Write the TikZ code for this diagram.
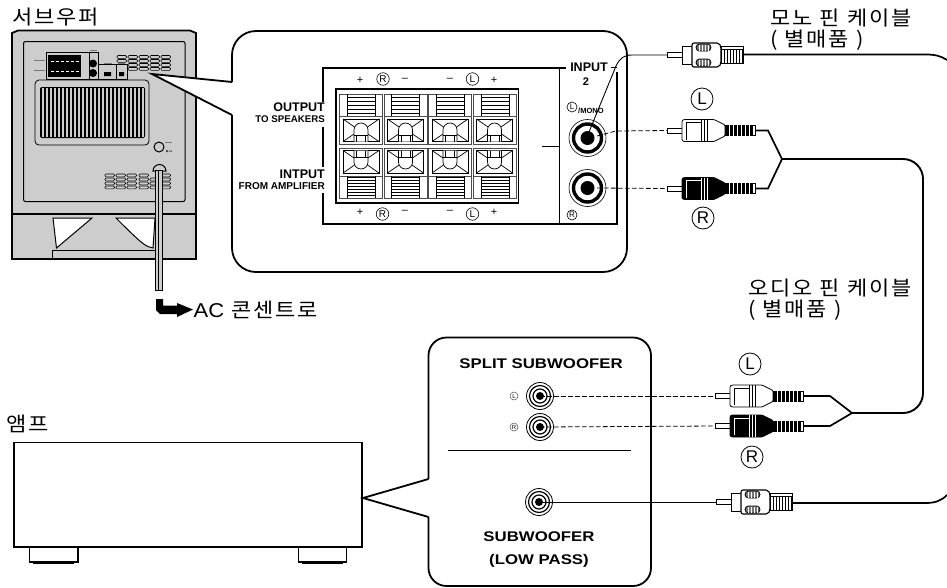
\documentclass[tikz,border=0pt]{standalone}
\usepackage{fontspec}
\setmainfont{Liberation Sans}
\newfontfamily\krfont[LetterSpace=8,WordSpace=1.1]{Noto Sans CJK KR}
\definecolor{boxgray}{HTML}{CDCDCD}
\definecolor{midgray}{HTML}{777777}
\newcommand{\krw}[1]{\scalebox{1.1}[1]{#1}}
\newcommand{\bw}[1]{\scalebox{1.2}[1]{#1}}
\tikzset{
  ln/.style={draw=black,line width=0.8pt},
  thickln/.style={draw=black,line width=1.8pt},
  cable/.style={draw=black,line width=1.7pt,rounded corners=0pt},
  dashcable/.style={draw=black,line width=0.8pt,dash pattern=on 4.5pt off 2.5pt},
  krlabel/.style={font=\krfont\fontsize{20}{20}\selectfont,inner sep=0pt,anchor=base west},
  boldlab/.style={font=\bfseries\fontsize{#1}{#1}\selectfont,inner sep=0pt},
  boldlab/.default=12,
  circA/.style={circle,draw=black,line width=0.8pt,fill=white,inner sep=0pt,minimum size=22pt,font=\fontsize{17}{17}\selectfont},
  circB/.style={circle,draw=black,line width=0.6pt,fill=white,inner sep=0pt,minimum size=12.5pt,font=\fontsize{10}{10}\selectfont},
  circC/.style={circle,draw=black!70,line width=0.5pt,fill=white,inner sep=0pt,minimum size=8pt,font=\fontsize{6}{6}\selectfont},
  signlab/.style={inner sep=0pt,font=\fontsize{11}{11}\selectfont},
  vent/.style={draw=black,line width=0.6pt,fill=boxgray,rounded corners=1pt},
}
\newcommand{\stereoplug}[4]{%
  \begin{scope}[shift={(#1,#2)}]
    \draw[ln,fill=white] (0,-2.5) -- (15,-2.5) -- (15,2.5) -- (0,2.5) -- cycle;
    \draw[ln,fill=#3,rounded corners=1pt] (15,-10) -- (17,-11) -- (47,-11) -- (58,-5.5) -- (58,5.5) -- (47,11) -- (17,11) -- (15,10) -- cycle;
    \draw[#4,line width=0.7pt] (19,-8) -- (34,-8) (19,-8) -- (19,9);
    \foreach \q in {34,37,40}{\draw[#4,line width=1pt] (\q,-11) -- (\q,11);}
    \fill[black] (58,-5.5) rectangle (85,5.5);
    \foreach \q in {62,66,70,74,78,82}{\draw[white,line width=0.4pt] (\q,-5.5) -- (\q,5.5);}
    \draw[ln,fill=white] (85,-5) rectangle (88,5);
  \end{scope}}
\newcommand{\monoplug}[2]{%
  \begin{scope}[shift={(#1,#2)}]
    \draw[ln,fill=white] (0,-2.2) rectangle (15,2.2);
    \draw[ln,fill=white] (15,-9) rectangle (27,9);
    \draw[thickln,line width=1.1pt,fill=white,rounded corners=2pt] (25,-12) -- (52,-12) -- (54,-8.5) -- (54,8.5) -- (52,12) -- (25,12) -- cycle;
    \draw[ln,fill=midgray,rounded corners=3.5pt] (29,-11) rectangle (44,-4);
    \draw[ln,fill=midgray,rounded corners=3.5pt] (29,4) rectangle (44,11);
    \foreach \q in {32,35,38,41}{\draw[white,line width=0.5pt] (\q,-10.5) -- (\q,-4.5) (\q,4.5) -- (\q,10.5);}
    \draw[ln,fill=white] (54,-8.5) rectangle (76,8.5);
    \foreach \q in {57,60,63,66,69,72,75}{\draw[black,line width=0.5pt] (\q,-6) -- (\q,8.5);}
    \draw[black,line width=0.5pt] (54,-5.5) -- (76,-5.5);
  \end{scope}}
\newcommand{\bigjack}[2]{%
  \draw[black,line width=0.6pt,fill=white] (#1,#2) circle (18.5);
  \draw[black,line width=3.4pt] (#1,#2) circle (14);
  \fill[black] (#1,#2) circle (7);}
\newcommand{\smalljack}[2]{%
  \draw[black,line width=0.8pt,fill=white] (#1,#2) circle (13.5);
  \draw[black,line width=1.2pt] (#1,#2) circle (10.5);
  \draw[black,line width=1.2pt] (#1,#2) circle (7);
  \fill[black] (#1,#2) circle (4);}
\newcommand{\spkunit}[5]{%
  \begin{scope}[shift={(#1,#2)},yscale=#3]
    \draw[draw=black!70,line width=0.8pt,fill=white] (0,0) rectangle (43,50);
    \draw[black!70,line width=0.8pt] (0,22) -- (43,22);
    \draw[black,line width=0.7pt] (#4,0) -- (#4,22) (#4+28,0) -- (#4+28,22);
    \foreach \q in {#5}{\draw[black,line width=0.7pt] (#4,\q) -- (#4+28,\q);}
    \draw[black,line width=0.7pt] (3.5,25) rectangle (39.5,47.5);
    \draw[black,line width=0.7pt] (3.5,25) -- (15,33) (39.5,25) -- (28,33) (3.5,47.5) -- (16,39) (39.5,47.5) -- (27,39);
    \draw[black,line width=0.7pt,fill=white] (14.5,47.5) -- (14.5,36) arc[start angle=180,end angle=360,radius=7] -- (28.5,47.5);
    \draw[black,line width=0.7pt] (17,47.5) -- (17,41) (26,47.5) -- (26,41) (14.5,41) -- (28.5,41);
  \end{scope}}
\begin{document}
\begin{tikzpicture}[x=1pt,y=-1pt]
\useasboundingbox (0,0) rectangle (947,587);
%--- Subwoofer
\node[krlabel] (lblsub) at (12,24) {\krw{서브우퍼}};
\draw[thickln,fill=boxgray] (12,33) -- (18,30.5) -- (190,30.5) -- (196,33) -- (196,214) -- (12,214) -- cycle;
\draw[thickln,fill=boxgray] (12,214) rectangle (196,259);
\draw[ln,line width=1pt,fill=boxgray,rounded corners=2pt] (23.5,41.5) rectangle (185,201.5);
\draw[ln,line width=1pt,fill=white] (53,218) -- (92,218) -- (56.5,248) -- cycle;
\draw[ln,line width=1pt,fill=white] (116,218) -- (155,218) -- (153,248) .. controls (146,247) and (142,244) .. cycle;
\draw[ln,line width=1pt,fill=boxgray] (52.5,250) rectangle (156,258);
\draw[ln,fill=boxgray,rounded corners=4pt] (35,80) rectangle (149,145);
\fill[black,rounded corners=2pt] (40,87) rectangle (145,138);
\foreach \q in {43,47,...,143}{\draw[boxgray,line width=1.4pt] (\q,88) -- (\q,137);}
\foreach \q in {128,139,150,161}{\foreach \r in {55.5,59.5,63.5,67.5}{\draw[vent] (\q,\r) rectangle ++(9.5,2.8);}}
\foreach \r in {55.5,59.5}{\draw[vent] (117,\r) rectangle ++(9.5,2.8);}
\foreach \q in {105,116,127,139,161}{\foreach \r in {174,178,182,186}{\draw[vent] (\q,\r) rectangle ++(9.5,2.8);}}
\foreach \r in {178,182,186}{\draw[vent] (150,\r) rectangle ++(9.5,2.8);}
% miniature rear panel
\draw[ln] (46,52) rectangle (98,79);
\fill[black] (48,55) rectangle (81,77);
\foreach \q in {51,56,...,79}{\foreach \r in {61,71}{\fill[white] (\q,\r) rectangle ++(2.5,1);}}
\draw[ln] (89,52) -- (89,79);
\fill[black] (93,63.5) circle (4) (93,73) circle (4);
\draw[ln] (98,64) -- (127,64) -- (127,79) -- (98,79) (116,64) -- (116,79);
\fill[black] (104,72) rectangle (111,76) (119,72) rectangle (124,76);
\draw[midgray,line width=0.8pt] (34,60) -- (45,60) (34,70) -- (45,70) (104,63) -- (112,63) (118,63) -- (125,63) (90,50) -- (97,50);
\draw[ln,line width=1pt] (159,147) circle (5);
\draw[midgray,line width=0.8pt] (165,142) -- (172,142);
\fill[black!70] (166,150) rectangle (168,152) (169,150.5) rectangle (172,151.5);
\draw[ln,line width=1pt,fill=boxgray] (153,171) arc[start angle=180,end angle=360,radius=6.5] -- cycle;
\draw[black,fill=boxgray,line width=0.8pt] (155.5,170) rectangle (162,290);
\draw[black,line width=0.5pt] (158.7,170) -- (158.7,290);
% AC arrow
\node[font=\krfont\fontsize{20}{20}\selectfont,inner sep=0pt,anchor=base west] (aclabel) at (193.5,317) {\krw{{\rmfamily AC} 콘센트로}};
\coordinate (acarrow) at (193,309.5);
\fill[black] (156,299) -- (163,299) -- (163,305.5) -- (177,305.5) -- (177,303) -- (acarrow) -- (177,317) -- (177,314) -- (160,314) -- (156,310) -- cycle;
%--- Upper panel with callout
\path[fill=white] (152,74) -- (232,82) -- (232,115) -- cycle;
\coordinate (tipA) at (152,74);
\draw[thickln,rounded corners=24pt] (232,82) -- (232,31) -- (627,31) -- (627,272) -- (232,272) -- (232,115);
\draw[thickln,line join=miter] (232,82) -- (tipA) -- (232,115);
% frame and terminal block
\draw[ln,line width=1.3pt] (566,68) -- (323,68) -- (323,102) (323,127) -- (323,167) (323,193) -- (323,224) -- (617,224) -- (617,72);
\draw[ln,line width=1.3pt] (559.5,67.5) -- (559.5,224) (542,146.5) -- (559.5,146.5);
\draw[ln,line width=1.3pt] (611,67.5) -- (617,67.5);
\node[boldlab=12.5,anchor=east] (outp) at (325,107.5) {OUTPUT};
\node[boldlab=9.7,anchor=east] (tospk) at (325,119) {TO SPEAKERS};
\node[boldlab=12.5,anchor=east] (intp) at (325,174.5) {INTPUT};
\node[boldlab=10,anchor=east] (fromamp) at (325,186.5) {FROM AMPLIFIER};
\foreach \c/\s in {339.5/347,384/391,428.5/436,473/481}{
  \spkunit{\c}{94}{1}{\s-\c}{3,7,11,15,19}
  \spkunit{\c}{198}{-1}{\s-\c}{3,6,9,12,15,18,21}
}
\draw[thickln] (336,89) rectangle (518.5,203);
\node[signlab] (p1) at (360,80) {+};
\node[circB] (rt) at (383,79) {R};
\node[signlab] (m1) at (405,80) {–};
\node[signlab] (m2) at (450,80) {–};
\node[circB] (lt) at (472.5,79) {L};
\node[signlab] (p2) at (494,80) {+};
\node[signlab] (p3) at (360,212) {+};
\node[circB] (rb) at (382.5,214) {R};
\node[signlab] (m3) at (405,212) {–};
\node[signlab] (m4) at (450,212) {–};
\node[circB] (lb) at (472.5,214) {L};
\node[signlab] (p4) at (494,212) {+};
% input section
\node[boldlab=12.5,anchor=center] (inp) at (589,67.5) {INPUT};
\node[boldlab=11,anchor=center] (inp2) at (586,81.5) {2};
\node[circB,minimum size=10pt,font=\fontsize{8}{8}\selectfont] (monol) at (572,107) {L};
\node[font=\bfseries\fontsize{7.5}{7.5}\selectfont,inner sep=0pt,anchor=west] (mono) at (578,110.5) {/MONO};
\node[circB,minimum size=10pt,font=\fontsize{8}{8}\selectfont] (monor) at (572,215) {R};
\bigjack{587.5}{138}
\bigjack{587.5}{188}
\coordinate (jackA) at (589,132);
\coordinate (jackB) at (597,136);
\coordinate (jackC) at (597,188);
%--- Cables upper
\coordinate (monoTop) at (667,55);
\draw[black,line width=0.9pt] (jackA) -- (616,66) .. controls (620,58) and (624,55) .. (632,55) -- (monoTop);
\draw[dashcable] (jackB) -- (616,131) -- (667,130.5);
\draw[dashcable] (jackC) -- (667,188.5);
\monoplug{667}{55}
\coordinate (monoTopEnd) at (743,54.5);
\coordinate (rightTop) at (947,60);
\draw[cable] (monoTopEnd) -- (926,54.5) .. controls (935,54.5) and (941,56) .. (rightTop);
\stereoplug{667}{130.5}{white}{black}
\stereoplug{667}{188.5}{black}{white}
\coordinate (joinU) at (782,159);
\coordinate (joinL) at (852,413);
\draw[cable,line join=miter] (755,130.5) -- (768,130.5) -- (joinU) -- (768,188.5) -- (755,188.5);
\draw[cable,line width=1.9pt] (joinU) -- (903,159) arc[start angle=-90,end angle=0,radius=20] -- (923,393) arc[start angle=0,end angle=90,radius=20] -- (joinL);
\stereoplug{715}{396}{white}{black}
\stereoplug{715}{426}{black}{white}
\draw[cable,line join=miter] (803,396) -- (830,396) -- (joinL) -- (830,426) -- (803,426);
\node[circA] (cl1) at (702,99) {L};
\node[circA] (cr1) at (703,218) {R};
\node[circA] (cl2) at (750,364) {L};
\node[circA] (cr2) at (752,457) {R};
% Korean labels
\node[krlabel] (monolab) at (770,25) {\krw{모노 핀 케이블}};
\node[krlabel] (monolab2) at (770,46) {\krw{( 별매품 )}};
\node[krlabel] (audlab) at (748,295) {\krw{오디오 핀 케이블}};
\node[krlabel] (audlab2) at (748,316) {\krw{( 별매품 )}};
\node[krlabel] (amplab) at (6,431) {\krw{앰프}};
%--- Amp
\draw[thickln,fill=white] (14,442.5) rectangle (362,547);
\draw[thickln,fill=white] (29.5,547) rectangle (78,562);
\draw[thickln,fill=white] (298.5,547) rectangle (346.5,562);
\draw[black,line width=2.5pt] (33,563) -- (74,563) (302,563) -- (343,563);
%--- Lower panel
\coordinate (tipB) at (363,498);
\draw[thickln,rounded corners=18pt] (428.5,479) -- (428.5,337.5) -- (651,337.5) -- (651,586) -- (428.5,586) -- (428.5,517);
\draw[thickln,line join=miter] (428.5,479) -- (tipB) -- (428.5,517);
\node[boldlab=14] (split) at (541,364) {\bw{SPLIT SUBWOOFER}};
\node[boldlab=14] (subw) at (539,537) {\bw{SUBWOOFER}};
\node[boldlab=14] (lowp) at (539,561) {\bw{(LOW PASS)}};
\draw[black,line width=0.7pt] (448,450) -- (631,450);
\node[circC] (sl) at (514,396) {L};
\node[circC] (sr) at (514,427) {R};
\smalljack{540}{396}
\smalljack{540}{427}
\smalljack{539}{502}
\coordinate (jL) at (540,396);
\coordinate (jR) at (540,427);
\coordinate (jM) at (539,502);
\draw[dashcable] (jL) -- (715,396);
\draw[dashcable] (jR) -- (715,426);
\draw[black,line width=0.9pt] (jM) -- (716,502);
\monoplug{716}{502}
\coordinate (monoBotEnd) at (792,503);
\coordinate (rightBot) at (947,495);
\draw[cable] (monoBotEnd) -- (925,503) .. controls (935,503) and (941,501) .. (rightBot);
\end{tikzpicture}
\end{document}
